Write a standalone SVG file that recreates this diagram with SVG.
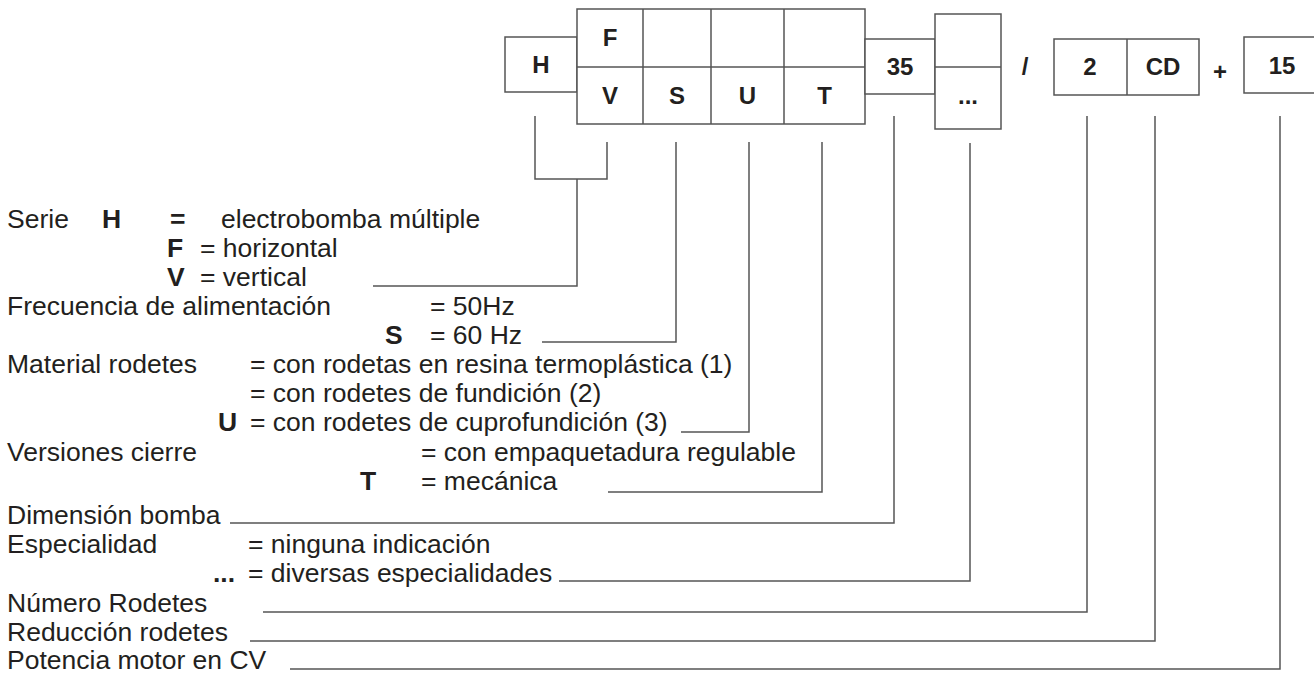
<svg xmlns="http://www.w3.org/2000/svg" width="1314" height="680" viewBox="0 0 1314 680">
<style>
.bx{fill:#fff;stroke:#555;stroke-width:1.5}
.dv{stroke:#555;stroke-width:1.5;fill:none}
.lb{font-family:"Liberation Sans",Arial,sans-serif;font-weight:bold;font-size:24px;fill:#231f20;text-anchor:middle}
.t{font-family:"Liberation Sans",Arial,sans-serif;font-size:26.5px;fill:#231f20}
.b{font-weight:bold}
.cn{fill:none;stroke:#555;stroke-width:1.5}
</style>
<rect width="1314" height="680" fill="#fff"/>
<g id="node-H"><rect class="bx" x="505" y="37" width="72" height="55"/><text class="lb" x="541" y="73">H</text></g>
<g id="node-FV">
<rect class="bx" x="577" y="9" width="288" height="115"/>
<line class="dv" x1="577" y1="67" x2="865" y2="67"/>
<line class="dv" x1="643" y1="9" x2="643" y2="124"/>
<line class="dv" x1="711" y1="9" x2="711" y2="124"/>
<line class="dv" x1="784" y1="9" x2="784" y2="124"/>
<text class="lb" x="610" y="46">F</text>
<text class="lb" x="610" y="104">V</text>
<text class="lb" x="677" y="104">S</text>
<text class="lb" x="747.5" y="104">U</text>
<text class="lb" x="824.5" y="104">T</text>
</g>
<g id="node-35"><rect class="bx" x="865" y="39" width="70" height="55"/><text class="lb" x="900" y="75">35</text></g>
<g id="node-esp"><rect class="bx" x="935" y="14" width="66" height="115"/><line class="dv" x1="935" y1="67" x2="1001" y2="67"/><text class="lb" x="968" y="104">...</text></g>
<text class="lb" x="1025" y="75">/</text>
<g id="node-2CD"><rect class="bx" x="1054" y="39" width="145" height="56"/><line class="dv" x1="1127" y1="39" x2="1127" y2="95"/><text class="lb" x="1090" y="75">2</text><text class="lb" x="1163" y="75">CD</text></g>
<text class="lb" x="1220" y="80">+</text>
<g id="node-15"><rect class="bx" x="1244" y="37" width="76" height="56"/><text class="lb" x="1282" y="74">15</text></g>

<g id="connectors">
<path class="cn" d="M535,116 V179 H607 V142"/>
<path class="cn" d="M577,179 V286 H373"/>
<path class="cn" d="M676,142 V342 H542"/>
<path class="cn" d="M749,142 V432 H681"/>
<path class="cn" d="M822,142 V492 H608"/>
<path class="cn" d="M894,116 V523 H230"/>
<path class="cn" d="M970,143 V581 H559"/>
<path class="cn" d="M1087,116 V612 H263"/>
<path class="cn" d="M1155,116 V641 H250"/>
<path class="cn" d="M1280,116 V669 H290"/>
</g>

<g id="legend" class="t">
<text x="7" y="228">Serie</text><text class="b" x="102" y="228">H</text><text class="b" x="170" y="228">=</text><text x="221" y="228">electrobomba múltiple</text>
<text class="b" x="167" y="257">F</text><text x="200" y="257">= horizontal</text>
<text class="b" x="167" y="286">V</text><text x="200" y="286">= vertical</text>
<text x="7" y="315">Frecuencia de alimentación</text><text x="430" y="315">= 50Hz</text>
<text class="b" x="385" y="344">S</text><text x="430" y="344">= 60 Hz</text>
<text x="7" y="373">Material rodetes</text><text x="250" y="373">= con rodetas en resina termoplástica (1)</text>
<text x="250" y="402">= con rodetes de fundición (2)</text>
<text class="b" x="218" y="431">U</text><text x="250" y="431">= con rodetes de cuprofundición (3)</text>
<text x="7" y="461">Versiones cierre</text><text x="421" y="461">= con empaquetadura regulable</text>
<text class="b" x="360" y="490">T</text><text x="421" y="490">= mecánica</text>
<text x="7" y="524">Dimensión bomba</text>
<text x="7" y="553">Especialidad</text><text x="248" y="553">= ninguna indicación</text>
<text class="b" x="213" y="582">...</text><text x="248" y="582">= diversas especialidades</text>
<text x="7" y="612">Número Rodetes</text>
<text x="7" y="641">Reducción rodetes</text>
<text x="7" y="669">Potencia motor en CV</text>
</g>
</svg>
